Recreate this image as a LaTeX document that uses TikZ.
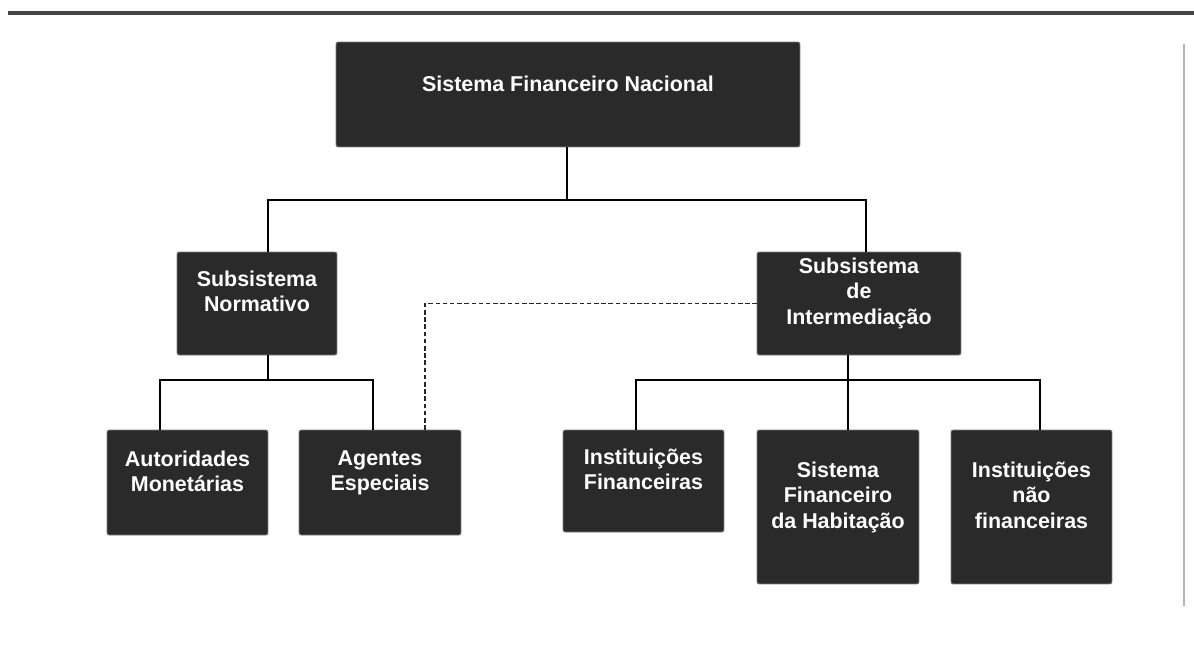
\documentclass[tikz,border=0pt]{standalone}
\usepackage{fontspec}
\newfontfamily\labfont{Liberation Sans}
\definecolor{boxfill}{HTML}{2A2A2A}
\definecolor{boxedge}{HTML}{7A7A7A}
\definecolor{rulegray}{HTML}{454545}
\definecolor{sidegray}{HTML}{B5B5B5}
\definecolor{dashgray}{HTML}{262626}
\tikzset{
  orgbox/.style={draw=boxedge, line width=0.5pt, fill=boxfill, rounded corners=1.2pt,
    inner sep=0pt, outer sep=0pt},
  orgtext/.style={anchor=north, inner sep=0pt, outer sep=0pt, align=center,
    text=white, font=\labfont\bfseries\fontsize{12.2}{14.6}\selectfont},
  conn/.style={draw=black, line width=0.9pt},
  dashline/.style={draw=dashgray, line width=1pt, dash pattern=on 2.6pt off 1.5pt},
}
\begin{document}
\begin{tikzpicture}[x=0.02cm, y=-0.02cm]
\useasboundingbox (0,0) rectangle (1194,657);

% page rules
\draw[rulegray, line width=1.9pt] (8,13) -- (1194,13);
\draw[sidegray, line width=1.1pt] (1184,44) -- (1184,606);

% boxes
\node[orgbox, minimum width=9.28cm, minimum height=2.1cm] (snf) at (568,94.5) {};
\node[orgbox, minimum width=3.2cm, minimum height=2.06cm] (norm) at (257,303.5) {};
\node[orgbox, minimum width=4.08cm, minimum height=2.06cm] (inter) at (859,303.5) {};
\node[orgbox, minimum width=3.22cm, minimum height=2.1cm] (aut) at (187.5,482.5) {};
\node[orgbox, minimum width=3.24cm, minimum height=2.1cm] (age) at (380,482.5) {};
\node[orgbox, minimum width=3.22cm, minimum height=2.04cm] (inf) at (643.5,481) {};
\node[orgbox, minimum width=3.24cm, minimum height=3.08cm] (sfh) at (838,507) {};
\node[orgbox, minimum width=3.22cm, minimum height=3.08cm] (inn) at (1031.5,507) {};

% labels
\node[orgtext, yshift=-0.67cm] (snf-t) at (snf.north) {Sistema Financeiro Nacional};
\node[orgtext, yshift=-0.37cm] (norm-t) at (norm.north) {Subsistema\\Normativo};
\node[orgtext, yshift=-0.11cm] (inter-t) at (inter.north) {Subsistema\\de\\Intermediação};
\node[orgtext, yshift=-0.41cm] (aut-t) at (aut.north) {Autoridades\\Monetárias};
\node[orgtext, yshift=-0.41cm] (age-t) at (age.north) {Agentes\\Especiais};
\node[orgtext, yshift=-0.37cm] (inf-t) at (inf.north) {Instituições\\Financeiras};
\node[orgtext, yshift=-0.63cm] (sfh-t) at (sfh.north) {Sistema\\Financeiro\\da Habitação};
\node[orgtext, yshift=-0.63cm] (inn-t) at (inn.north) {Instituições\\não\\financeiras};

% junction points of the tree
\coordinate (bus1) at (567,200);
\coordinate (bus2) at (268,380);
\coordinate (bus3) at (848,380);

% first level
\draw[conn] (snf.south -| bus1) -- (bus1);
\draw[conn] ([xshift=0.22cm]norm.north) |- (bus1) -| ([xshift=0.14cm]inter.north);

% normative branch
\draw[conn] ([xshift=0.22cm]norm.south) -- (bus2);
\draw[conn] ([xshift=-0.55cm]aut.north) |- (bus2) -| ([xshift=-0.14cm]age.north);

% intermediation branch
\draw[conn] ([xshift=-0.22cm]inter.south) -- (bus3);
\draw[conn] ([xshift=-0.15cm]inf.north) |- (bus3) -| ([xshift=0.17cm]inn.north);
\draw[conn] (bus3) -- ([xshift=0.2cm]sfh.north);

% dashed link
\draw[dashline] (inter.west) -| ([xshift=0.9cm]age.north);
\end{tikzpicture}
\end{document}
